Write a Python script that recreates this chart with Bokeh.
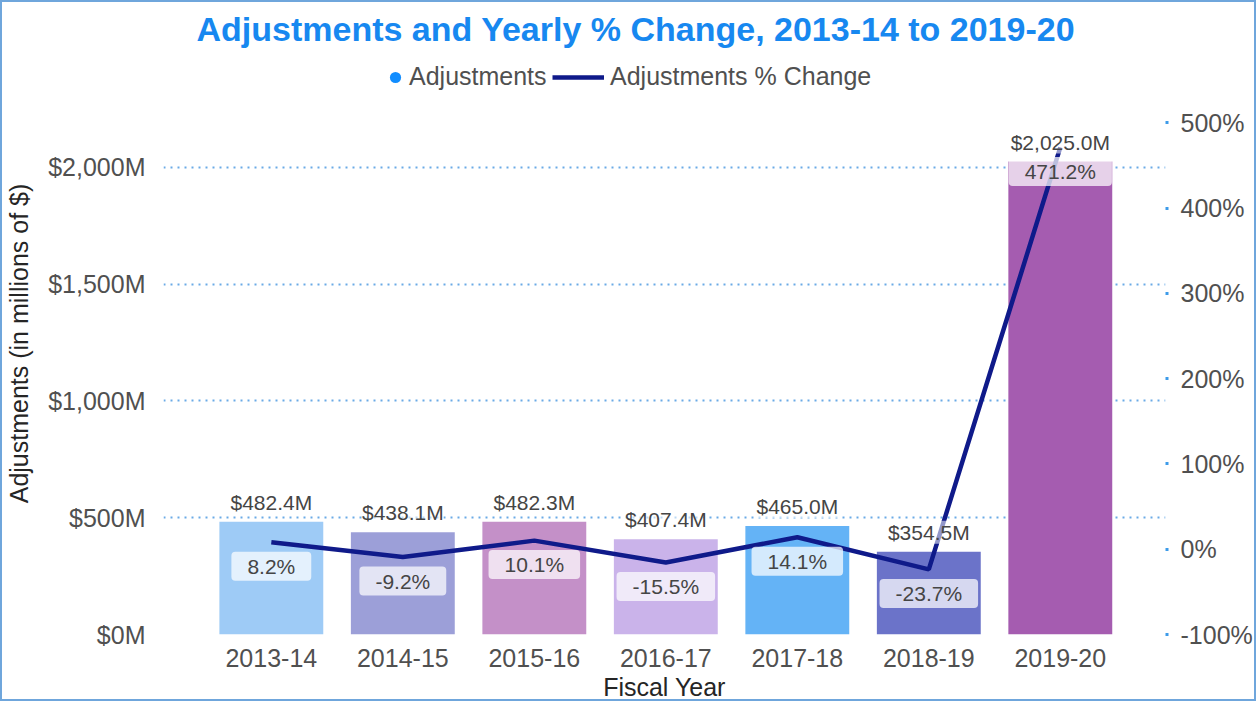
from bokeh.plotting import figure
from bokeh.models import (Range1d, LinearAxis, FixedTicker, ColumnDataSource,
                          Legend, LegendItem)
from bokeh.core.properties import value
from bokeh.embed import file_html
from bokeh.resources import INLINE

# ---- data ----
categories = ["2013-14", "2014-15", "2015-16", "2016-17", "2017-18", "2018-19", "2019-20"]
adjustments = [482.4, 438.1, 482.3, 407.4, 465.0, 354.5, 2025.0]
pct_change = [8.2, -9.2, 10.1, -15.5, 14.1, -23.7, 471.2]
bar_colors = ["#9ecbf6", "#9c9fd8", "#c490c8", "#cab3ea", "#64b3f6", "#6b73c9", "#a55cb0"]
left_ticks = [0, 500, 1000, 1500, 2000]
left_tick_labels = ["$0M", "$500M", "$1,000M", "$1,500M", "$2,000M"]
right_ticks = [-100, 0, 100, 200, 300, 400, 500]
right_tick_labels = ["-100%", "0%", "100%", "200%", "300%", "400%", "500%"]

FONT = "Liberation Sans"
TICK_COLOR = "#505050"
TITLE_COLOR = "#252525"

x = list(range(len(categories)))
src = ColumnDataSource(dict(
    x=x, cat=categories, adj=adjustments, pct=pct_change, color=bar_colors,
    adj_label=[f"${v:,.1f}M" for v in adjustments],
    pct_label=[f"{v:.1f}%" for v in pct_change],
))

p = figure(width=1256, height=701, output_backend="svg", toolbar_location=None,
           x_range=Range1d(-0.82, 6.80), y_range=Range1d(0, 2492),
           min_border_left=158, min_border_right=93, min_border_top=50,
           min_border_bottom=69)
p.styles = {"border": "2px solid #6fa6dc"}
p.outline_line_color = None
p.background_fill_color = "white"
p.border_fill_color = "white"
p.extra_y_ranges = {"pct": Range1d(-100, 582.5)}

# title
p.title.text = "Adjustments and Yearly % Change, 2013-14 to 2019-20"
p.title.align = "left"
p.title.text_font = FONT
p.title.text_font_size = "34px"
p.title.text_font_style = "bold"
p.title.text_color = "#1788f0"
p.title.offset = 33
p.title.standoff = 9

# left axis
yax = p.yaxis[0]
yax.ticker = FixedTicker(ticks=left_ticks)
yax.major_label_overrides = dict(zip(left_ticks, left_tick_labels))
yax.axis_label = "Adjustments (in millions of $)"
# x axis
xax = p.xaxis[0]
xax.ticker = FixedTicker(ticks=x)
xax.major_label_overrides = dict(zip(x, categories))
xax.axis_label = "Fiscal Year"

# right axis
rax = LinearAxis(y_range_name="pct", ticker=FixedTicker(ticks=right_ticks))
rax.major_label_overrides = dict(zip(right_ticks, right_tick_labels))
p.add_layout(rax, "right")

for ax in (yax, xax, rax):
    ax.axis_line_color = None
    ax.major_tick_line_color = None
    ax.minor_tick_line_color = None
    ax.major_label_text_font = FONT
    ax.major_label_text_font_size = "25px"
    ax.major_label_text_color = TICK_COLOR
    ax.axis_label_text_font = FONT
    ax.axis_label_text_font_size = "25px"
    ax.axis_label_text_font_style = "normal"
    ax.axis_label_text_color = TITLE_COLOR

yax.major_label_standoff = 12
yax.axis_label_standoff = 12
xax.major_label_standoff = 8
xax.axis_label_standoff = 3
rax.major_tick_line_color = "#3d9be9"
rax.major_tick_line_width = 3
rax.major_tick_in = 0
rax.major_tick_out = 3
rax.major_label_standoff = 12

p.xgrid.visible = False
p.ygrid.ticker = FixedTicker(ticks=left_ticks)
p.ygrid.grid_line_color = "#6aaae6"
p.ygrid.grid_line_width = 2
p.ygrid.grid_line_dash = "2 5"

# bars
bars = p.vbar(x="x", top="adj", bottom=0, width=0.79, fill_color="color",
              line_color=None, source=src)
# line
ln = p.line(x="x", y="pct", y_range_name="pct", line_width=4.5,
            line_color="#0f1a8a", source=src)

# amount labels
p.text(x="x", y="adj", text="adj_label", source=src, text_align="center",
       text_baseline="bottom", y_offset=-8, text_font=value(FONT),
       text_font_size="21px", text_color="#454545",
       background_fill_color="white", background_fill_alpha=0.55)
# percent labels
p.text(x="x", y="pct", y_range_name="pct", text="pct_label", source=src,
       text_align="center", text_baseline="middle", y_offset=24,
       text_font=value(FONT), text_font_size="21px", text_color="#454545",
       background_fill_color="white", background_fill_alpha=0.72,
       border_radius=4, padding=dict(left=16, right=16, top=3, bottom=3))

# legend: marker proxy for the bar series (size 0 so it draws nothing in the plot)
dot = p.scatter(x="x", y="adj", marker="circle", size=0, fill_color="#118dff",
                line_color=None, source=src)
leg_common = dict(orientation="horizontal", label_text_font=FONT,
                  label_text_font_size="25px", label_text_color=TICK_COLOR,
                  border_line_color=None, background_fill_alpha=0,
                  margin=0, padding=0, glyph_height=28)
legend1 = Legend(items=[LegendItem(label="Adjustments", renderers=[dot])],
                 location=(218, 543), glyph_width=28, label_standoff=0,
                 **leg_common)
legend2 = Legend(items=[LegendItem(label="Adjustments % Change", renderers=[ln])],
                 location=(389, 543), glyph_width=52, label_standoff=6,
                 **leg_common)
p.add_layout(legend1)
p.add_layout(legend2)

open("out.html", "w").write(file_html(p, INLINE))
